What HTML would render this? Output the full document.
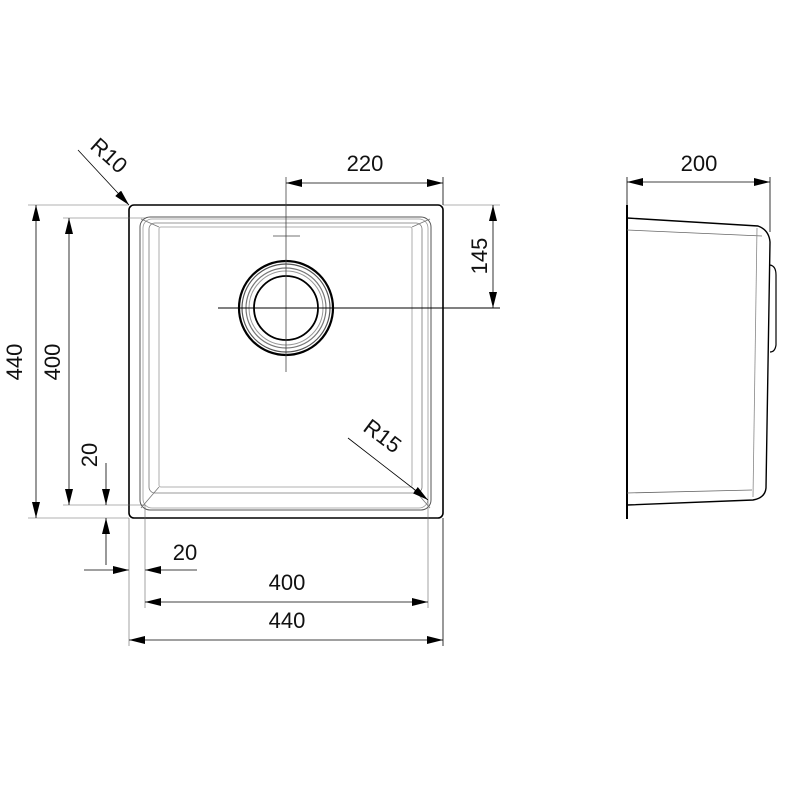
<!DOCTYPE html>
<html><head><style>body{margin:0;background:#fff}svg{display:block}text{font-family:"Liberation Sans",sans-serif;font-size:22px;fill:#111}</style></head><body>
<svg width="800" height="800" viewBox="0 0 800 800" xmlns="http://www.w3.org/2000/svg">
<defs><marker id="a" markerWidth="16" markerHeight="8" refX="16" refY="4" orient="auto" markerUnits="userSpaceOnUse"><path d="M0,0 L16,4 L0,8z" fill="#000"/></marker>
<marker id="b" markerWidth="16" markerHeight="8" refX="0" refY="4" orient="auto" markerUnits="userSpaceOnUse"><path d="M16,0 L0,4 L16,8z" fill="#000"/></marker></defs>
<g fill="none" stroke="#000">
<rect x="129" y="205" width="314" height="313" rx="5" stroke-width="1.6"/>
<rect x="140" y="217" width="291" height="293" rx="10" stroke="#555" stroke-width="1"/>
<rect x="143" y="219" width="285" height="289" rx="9" stroke="#999" stroke-width="0.8"/>
<rect x="149" y="223" width="273" height="270" rx="6" stroke="#777" stroke-width="0.8"/>
<rect x="159" y="227" width="253" height="260" rx="2" stroke="#999" stroke-width="0.8"/>
<g stroke="#777" stroke-width="0.8"><line x1="141" y1="219" x2="159" y2="227"/><line x1="430" y1="219" x2="412" y2="227"/><line x1="141" y1="508" x2="159" y2="487"/><line x1="430" y1="508" x2="412" y2="487"/></g>
<circle cx="286" cy="308" r="47" stroke-width="2.2"/>
<circle cx="286" cy="308" r="44" stroke="#555" stroke-width="1.2"/>
<circle cx="286" cy="308" r="40" stroke="#777" stroke-width="1.2"/>
<circle cx="286" cy="308" r="37" stroke="#999" stroke-width="1"/>
<circle cx="286" cy="308" r="32" stroke-width="1.8"/>
<line x1="286" y1="177" x2="286" y2="372" stroke-width="0.8" stroke="#444"/>
<line x1="273" y1="236" x2="300" y2="236" stroke-width="0.8" stroke="#444"/>
<line x1="218" y1="308" x2="500" y2="308" stroke-width="1"/>
<line x1="443" y1="177" x2="443" y2="205" stroke-width="0.8"/>
<line x1="286" y1="183" x2="443" y2="183" stroke-width="0.8" marker-start="url(#b)" marker-end="url(#a)"/>
<line x1="443" y1="205" x2="500" y2="205" stroke-width="0.6" stroke="#666"/>
<line x1="493" y1="205" x2="493" y2="308" stroke-width="0.8" marker-start="url(#b)" marker-end="url(#a)"/>
<line x1="28" y1="205" x2="129" y2="205" stroke-width="0.6" stroke="#666"/>
<line x1="28" y1="518" x2="129" y2="518" stroke-width="0.6" stroke="#666"/>
<line x1="36" y1="205" x2="36" y2="518" stroke-width="0.8" marker-start="url(#b)" marker-end="url(#a)"/>
<line x1="63" y1="218" x2="145" y2="218" stroke-width="0.6" stroke="#666"/>
<line x1="63" y1="505" x2="145" y2="505" stroke-width="0.6" stroke="#666"/>
<line x1="69" y1="218" x2="69" y2="505" stroke-width="0.8" marker-start="url(#b)" marker-end="url(#a)"/>
<line x1="106" y1="463" x2="106" y2="505" stroke-width="0.8" marker-end="url(#a)"/>
<line x1="106" y1="565" x2="106" y2="518" stroke-width="0.8" marker-end="url(#a)"/>
<line x1="84" y1="570" x2="129" y2="570" stroke-width="0.8" marker-end="url(#a)"/>
<line x1="197" y1="570" x2="145" y2="570" stroke-width="0.8" marker-end="url(#a)"/>
<line x1="145" y1="505" x2="145" y2="608" stroke-width="0.6" stroke="#666"/>
<line x1="428" y1="500" x2="428" y2="608" stroke-width="0.6" stroke="#666"/>
<line x1="129" y1="518" x2="129" y2="646" stroke-width="0.6" stroke="#666"/>
<line x1="443" y1="518" x2="443" y2="646" stroke-width="0.8"/>
<line x1="145" y1="602" x2="428" y2="602" stroke-width="0.8" marker-start="url(#b)" marker-end="url(#a)"/>
<line x1="129" y1="640" x2="443" y2="640" stroke-width="0.8" marker-start="url(#b)" marker-end="url(#a)"/>
<line x1="78" y1="150" x2="129" y2="205" stroke-width="0.8" marker-end="url(#a)"/>
<line x1="348" y1="438" x2="428" y2="500" stroke-width="0.8" marker-end="url(#a)"/>
<line x1="627" y1="205" x2="627" y2="519" stroke-width="2"/>
<line x1="627" y1="177" x2="627" y2="205" stroke-width="0.8"/>
<line x1="770" y1="177" x2="770" y2="232" stroke-width="0.8"/>
<line x1="627" y1="182" x2="770" y2="182" stroke-width="0.8" marker-start="url(#b)" marker-end="url(#a)"/>
<path d="M627,218 L758,226 Q769,230 770,242 L766,488 Q765,498 753,500 L627,505" stroke-width="1.4"/>
<path d="M627,230 L762,236" stroke="#666" stroke-width="0.8"/>
<path d="M627,493 L752,490" stroke="#666" stroke-width="0.8"/>
<path d="M757,228 L753,497" stroke="#888" stroke-width="0.8"/>
<path d="M770,265 Q776,266 776,275 L776,345 Q775,352 770,352" stroke-width="1.2"/>
</g>
<text x="365" y="171" text-anchor="middle">220</text>
<text x="699" y="171" text-anchor="middle">200</text>
<text x="287" y="590" text-anchor="middle">400</text>
<text x="287" y="628" text-anchor="middle">440</text>
<text x="185" y="560" text-anchor="middle">20</text>
<text transform="translate(487,256) rotate(-90)" text-anchor="middle">145</text>
<text transform="translate(22,362) rotate(-90)" text-anchor="middle">440</text>
<text transform="translate(60,362) rotate(-90)" text-anchor="middle">400</text>
<text transform="translate(97,455) rotate(-90)" text-anchor="middle">20</text>
<text transform="translate(104,161) rotate(42)" text-anchor="middle">R10</text>
<text transform="translate(378,442) rotate(37)" text-anchor="middle">R15</text>
</svg>
</body></html>
